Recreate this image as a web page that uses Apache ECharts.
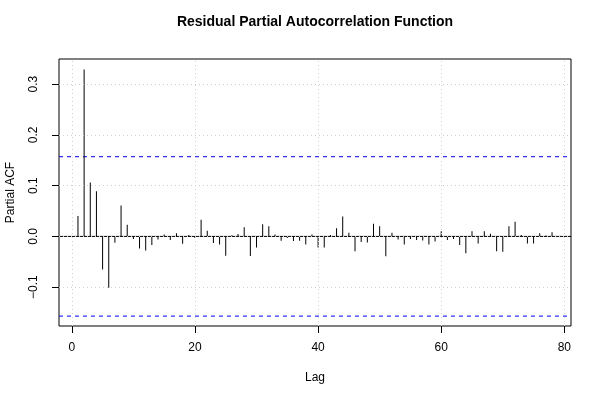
<!DOCTYPE html>
<html><head><meta charset="utf-8">
<script src="https://cdn.jsdelivr.net/npm/echarts@6/dist/echarts.min.js"></script>
<style>html,body{margin:0;padding:0;background:#fff}#c{width:600px;height:400px}</style>
</head><body><div id="c"></div>
<script>
const titleText = 'Residual Partial Autocorrelation Function';
const xLabel = 'Lag';
const yLabel = 'Partial ACF';
const lags = [1,2,3,4,5,6,7,8,9,10,11,12,13,14,15,16,17,18,19,20,
  21,22,23,24,25,26,27,28,29,30,31,32,33,34,35,36,37,38,39,40,
  41,42,43,44,45,46,47,48,49,50,51,52,53,54,55,56,57,58,59,60,
  61,62,63,64,65,66,67,68,69,70,71,72,73,74,75,76,77,78];
const pacf = [0.040,0.329,0.106,0.089,-0.065,-0.101,-0.0125,0.061,0.023,-0.005,
  -0.024,-0.028,-0.017,-0.006,0.004,-0.007,0.006,-0.0145,0.003,-0.003,
  0.033,0.011,-0.013,-0.016,-0.038,0.0025,0.0045,0.018,-0.0386,-0.022,
  0.024,0.020,0.004,-0.0085,-0.003,-0.009,-0.0085,-0.016,0.004,-0.022,
  -0.022,0.003,0.016,0.039,0.007,-0.029,-0.011,-0.012,0.025,0.020,
  -0.039,0.007,-0.006,-0.016,-0.005,-0.007,-0.008,-0.016,-0.010,0.010,
  -0.007,-0.005,-0.017,-0.033,0.010,-0.014,0.010,0.005,-0.029,-0.030,
  0.020,0.029,0.003,-0.014,-0.014,0.006,0.002,0.008];
const confLimit = 0.157;
const xRange = [-2.08, 81.08];
const yRange = [-0.1765, 0.3495];
const xTicks = [0,20,40,60,80];
const yTicks = [-0.1,0,0.1,0.2,0.3];

const FONT = '"Liberation Sans", Arial, Helvetica, sans-serif';
const chart = echarts.init(document.getElementById('c'));
const gridLines = [];
xTicks.forEach(v => gridLines.push({xAxis: v}));
yTicks.forEach(v => gridLines.push({yAxis: v}));
const hLine = (y, color, type, z) => ({
  type: 'line', data: [[xRange[0], y], [xRange[1], y]], silent: true, symbol: 'none', z: z,
  lineStyle: {color: color, width: 1, type: type}, itemStyle: {color: color}
});
chart.setOption({
  animation: false,
  backgroundColor: '#fff',
  grid: {left: 59, right: 29, top: 59, bottom: 74, show: true, borderColor: '#000', borderWidth: 1, backgroundColor: 'transparent'},
  xAxis: {
    type: 'value', min: xRange[0], max: xRange[1],
    axisLine: {show: false, onZero: false},
    axisTick: {show: true, length: 7, customValues: xTicks, lineStyle: {color: '#000'}},
    axisLabel: {customValues: xTicks, margin: 16, fontSize: 12, color: '#000', fontFamily: FONT},
    splitLine: {show: false}
  },
  yAxis: {
    type: 'value', min: yRange[0], max: yRange[1],
    axisLine: {show: false, onZero: false},
    axisTick: {show: true, length: 7, customValues: yTicks, lineStyle: {color: '#000'}},
    axisLabel: {customValues: yTicks, rotate: 90, margin: 19, fontSize: 12, color: '#000', fontFamily: FONT,
      formatter: v => Number(v).toFixed(1).replace('-', '\u2212')},
    splitLine: {show: false}
  },
  graphic: [
    {type: 'text', x: 315, y: 22, style: {text: titleText, font: 'bold 14px ' + FONT, align: 'center', verticalAlign: 'middle', fill: '#000'}},
    {type: 'text', x: 315, y: 378, style: {text: xLabel, font: '12px ' + FONT, align: 'center', verticalAlign: 'middle', fill: '#000'}},
    {type: 'text', x: 11, y: 192.5, rotation: Math.PI / 2, style: {text: yLabel, font: '12px ' + FONT, align: 'center', verticalAlign: 'middle', fill: '#000'}}
  ],
  series: [
    {type: 'line', data: [], silent: true, itemStyle: {color: '#d0d0d0'},
      markLine: {silent: true, symbol: 'none', label: {show: false}, data: gridLines,
        lineStyle: {type: [1,3], color: '#d0d0d0', width: 1}}},
    hLine(0, '#000000', 'solid', 2),
    hLine(confLimit, '#0000ff', [4,4], 2),
    hLine(-confLimit, '#0000ff', [4,4], 2),
    {type: 'bar', barWidth: 1, data: lags.map((l, i) => [l, pacf[i]]),
      itemStyle: {color: '#000'}, silent: true, z: 3}
  ]
});
</script></body></html>
